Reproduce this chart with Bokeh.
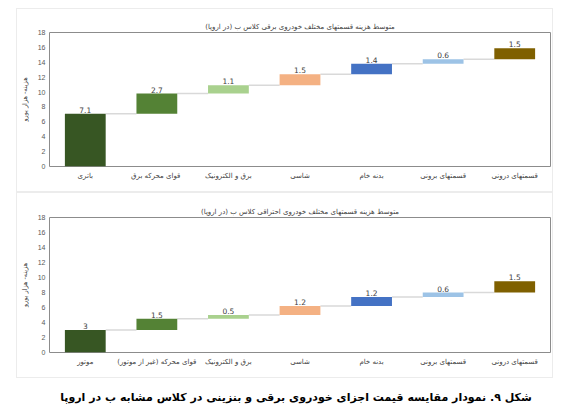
import numpy as np
from bokeh.plotting import figure
from bokeh.models import ColumnDataSource, FixedTicker, Range1d, Div
from bokeh.layouts import column
from bokeh.embed import file_html
from bokeh.resources import INLINE
from bokeh.core.properties import value

# ---- data ----
ev_categories = ["باتری", "قوای محرکه  برق", "برق و الکترونیک", "شاسی", "بدنه خام", "قسمتهای برونی", "قسمتهای درونی"]
ev_values = [7.1, 2.7, 1.1, 1.5, 1.4, 0.6, 1.5]
ice_categories = ["موتور", "قوای محرکه (غیر از موتور)", "برق و الکترونیک", "شاسی", "بدنه خام", "قسمتهای برونی", "قسمتهای درونی"]
ice_values = [3, 1.5, 0.5, 1.2, 1.2, 0.6, 1.5]
bar_colors = ["#375623", "#548235", "#A9D18E", "#F4B183", "#4472C4", "#9DC3E6", "#7F6000"]
y_ticks = [0, 2, 4, 6, 8, 10, 12, 14, 16, 18]
ev_title = "متوسط هزینه قسمتهای مختلف خودروی برقی کلاس ب (در اروپا)"
ice_title = "متوسط هزینه قسمتهای مختلف خودروی احتراقی کلاس ب (در اروپا)"
y_label = "هزینه- هزار یورو"
caption = "شکل ۹. نمودار مقایسه قیمت اجزای خودروی برقی و بنزینی در کلاس مشابه ب در اروپا"

FONT = "DejaVu Sans"
BAR_W = 0.57


def make_chart(cats, vals, title, height, top_border, top_margin):
    n = len(cats)
    idx = list(range(n))
    vals_a = np.array(vals, dtype=float)
    tops = np.cumsum(vals_a)
    bottoms = tops - vals_a
    p = figure(width=537, height=height, x_range=Range1d(-0.5, n - 0.5),
               y_range=Range1d(0, 18), output_backend="svg", toolbar_location=None,
               min_border_left=30, min_border_right=4, min_border_top=top_border,
               min_border_bottom=27, margin=(top_margin, 0, 0, 16))
    p.styles = {"border": "1px solid #ececec", "box-sizing": "border-box"}
    p.title.text = title
    p.title.align = "center"
    p.title.offset = -20
    p.title.text_font = FONT
    p.title.text_font_size = "7px"
    p.title.text_font_style = "normal"
    p.title.text_color = "#404040"
    p.title.standoff = 4

    src = ColumnDataSource(dict(x=idx, top=tops, bottom=bottoms, color=bar_colors[:n],
                                label=[f"{v:g}" for v in vals]))
    # connectors
    csrc = ColumnDataSource(dict(x0=[i + BAR_W / 2 for i in idx[:-1]],
                                 x1=[i + 1 - BAR_W / 2 for i in idx[:-1]],
                                 y=list(tops[:-1])))
    p.segment(x0="x0", y0="y", x1="x1", y1="y", source=csrc, line_color="#D9D9D9", line_width=1.5)
    p.vbar(x="x", top="top", bottom="bottom", width=BAR_W, fill_color="color",
           line_color=None, source=src)
    p.text(x="x", y="top", text="label", source=src, text_align="center",
           text_baseline="bottom", y_offset=-1, text_font=value(FONT),
           text_font_size="7.5px", text_color="#404040")

    p.xgrid.visible = False
    p.ygrid.visible = False
    p.outline_line_color = "#8C8C8C"
    p.outline_line_width = 1

    p.yaxis.ticker = FixedTicker(ticks=y_ticks)
    p.yaxis.axis_line_color = None
    p.yaxis.major_tick_line_color = None
    p.yaxis.minor_tick_line_color = None
    p.yaxis.major_tick_out = 0
    p.yaxis.major_tick_in = 0
    p.yaxis.major_label_text_font_size = "7px"
    p.yaxis.major_label_text_color = "#595959"
    p.yaxis.major_label_standoff = 4
    p.yaxis.axis_label = y_label
    p.yaxis.axis_label_text_font = FONT
    p.yaxis.axis_label_text_font_size = "6.5px"
    p.yaxis.axis_label_text_font_style = "normal"
    p.yaxis.axis_label_text_color = "#404040"
    p.yaxis.axis_label_standoff = 6

    p.xaxis.ticker = FixedTicker(ticks=idx)
    p.xaxis.major_label_overrides = {i: c for i, c in zip(idx, cats)}
    p.xaxis.axis_line_color = None
    p.xaxis.major_tick_line_color = None
    p.xaxis.minor_tick_line_color = None
    p.xaxis.major_tick_out = 0
    p.xaxis.major_tick_in = 0
    p.xaxis.major_label_text_font = FONT
    p.xaxis.major_label_text_font_size = "7px"
    p.xaxis.major_label_text_color = "#404040"
    p.xaxis.major_label_standoff = 5
    return p


p1 = make_chart(ev_categories, ev_values, ev_title, 184, 23, 8)
p2 = make_chart(ice_categories, ice_values, ice_title, 186, 24, 0)
cap = Div(text=caption, width=582, height=26,
          styles={"font-family": "DejaVu Sans", "font-weight": "bold", "font-size": "11px",
                  "text-align": "center", "direction": "rtl", "color": "#000",
                  "white-space": "nowrap", "padding-top": "7px", "width": "582px",
                  "overflow": "hidden"})

layout = column(p1, p2, cap, spacing=0)
open("out.html", "w").write(file_html(layout, INLINE))
